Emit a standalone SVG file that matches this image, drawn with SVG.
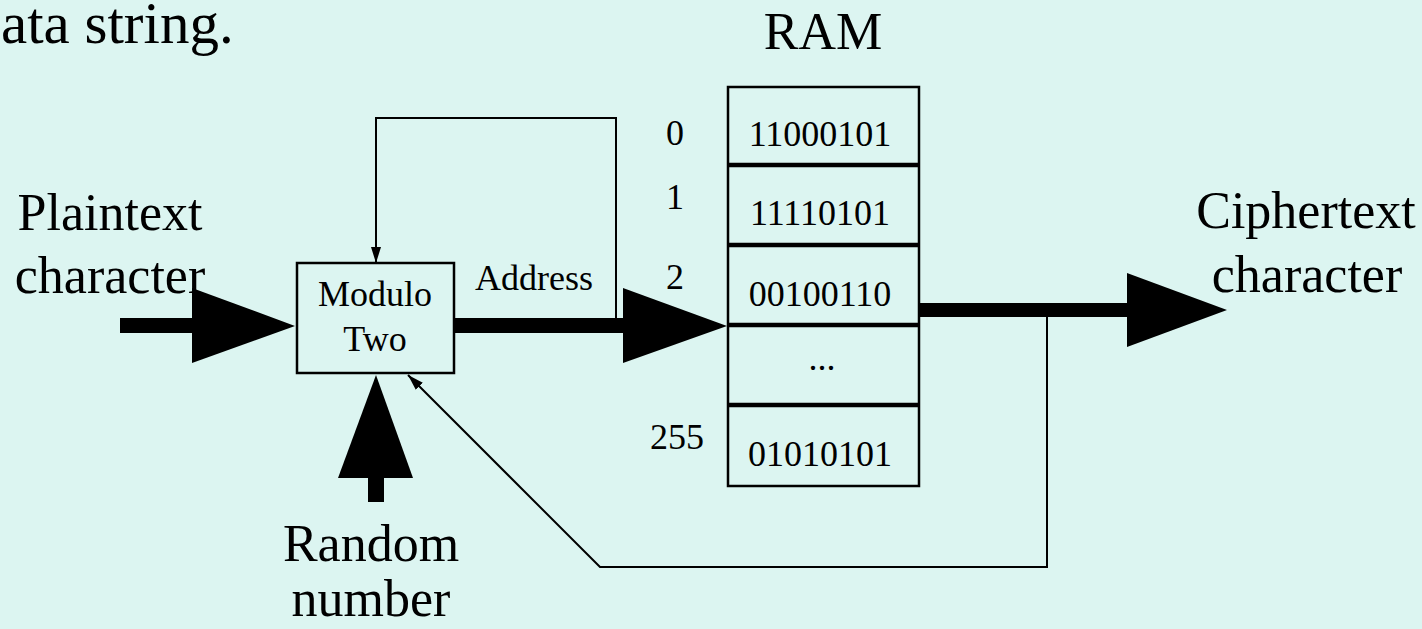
<svg xmlns="http://www.w3.org/2000/svg" width="1422" height="629" viewBox="0 0 1422 629">
  <defs>
    <style>
      .t { font-family: "Liberation Serif", "Times New Roman", serif; fill: #000; }
      .big { font-size: 52px; }
      .sm { font-size: 36px; }
      .mid { text-anchor: middle; }
      .box { fill: none; stroke: #000; stroke-width: 2.5; }
      .thin { fill: none; stroke: #000; stroke-width: 2; }
      .head { fill: #000; }
    </style>
    <marker id="tip" viewBox="0 0 16 10" refX="16" refY="5" markerWidth="16" markerHeight="10" markerUnits="userSpaceOnUse" orient="auto">
      <path d="M0,0 L16,5 L0,10 Z" fill="#000"/>
    </marker>
  </defs>

  <rect width="1422" height="629" fill="#dcf5f1"/>

  <text class="t" x="1" y="43" font-size="59">ata string.</text>

  <g id="plaintext">
    <text class="t big mid" x="110" y="230">Plaintext</text>
    <text class="t big mid" x="110" y="293">character</text>
  </g>

  <g id="modulo">
    <rect class="box" x="297" y="263" width="157" height="110"/>
    <text class="t sm mid" x="375" y="306">Modulo</text>
    <text class="t sm mid" x="375" y="351">Two</text>
  </g>

  <g id="random">
    <text class="t big mid" x="371" y="561">Random</text>
    <text class="t big mid" x="371" y="616">number</text>
  </g>

  <g id="ram">
    <text class="t big mid" x="823" y="49">RAM</text>
    <rect class="box" x="728" y="87" width="191" height="399"/>
    <g stroke="#000" stroke-width="4.5">
      <line x1="728" y1="165" x2="919" y2="165"/>
      <line x1="728" y1="245" x2="919" y2="245"/>
      <line x1="728" y1="325" x2="919" y2="325"/>
      <line x1="728" y1="405" x2="919" y2="405"/>
    </g>
    <text class="t sm mid" x="820" y="146">11000101</text>
    <text class="t sm mid" x="820" y="225">11110101</text>
    <text class="t sm mid" x="820" y="306">00100110</text>
    <text class="t sm mid" x="822" y="370">...</text>
    <text class="t sm mid" x="820" y="466">01010101</text>
    <text class="t sm mid" x="675" y="145">0</text>
    <text class="t sm mid" x="675" y="209">1</text>
    <text class="t sm mid" x="675" y="289">2</text>
    <text class="t sm mid" x="677" y="449">255</text>
  </g>

  <g id="ciphertext">
    <text class="t big mid" x="1306" y="228">Ciphertext</text>
    <text class="t big mid" x="1307" y="292">character</text>
  </g>

  <g id="connectors">
    <!-- plaintext into the modulo box -->
    <rect x="120" y="318" width="76" height="15" fill="#000"/>
    <path class="head" d="M192,288 L295,326 L192,363 Z"/>

    <!-- address bus into RAM -->
    <rect x="454" y="318" width="171" height="15" fill="#000"/>
    <path class="head" d="M623,288 L727,326 L623,363 Z"/>
    <text class="t sm" x="475" y="290">Address</text>

    <!-- address fed back to the modulo box -->
    <path class="thin" d="M616,318 L616,118 L376,118 L376,263" marker-end="url(#tip)"/>

    <!-- random number up into the modulo box -->
    <rect x="368" y="476" width="16" height="26" fill="#000"/>
    <path class="head" d="M338,478 L376,375 L413,478 Z"/>

    <!-- RAM output to ciphertext -->
    <rect x="919" y="303" width="210" height="14" fill="#000"/>
    <path class="head" d="M1127,273 L1227,310 L1127,347 Z"/>

    <!-- ciphertext fed back to the modulo box -->
    <path class="thin" d="M1047,317 L1047,567 L600,567 L408,375" marker-end="url(#tip)"/>
  </g>
</svg>
